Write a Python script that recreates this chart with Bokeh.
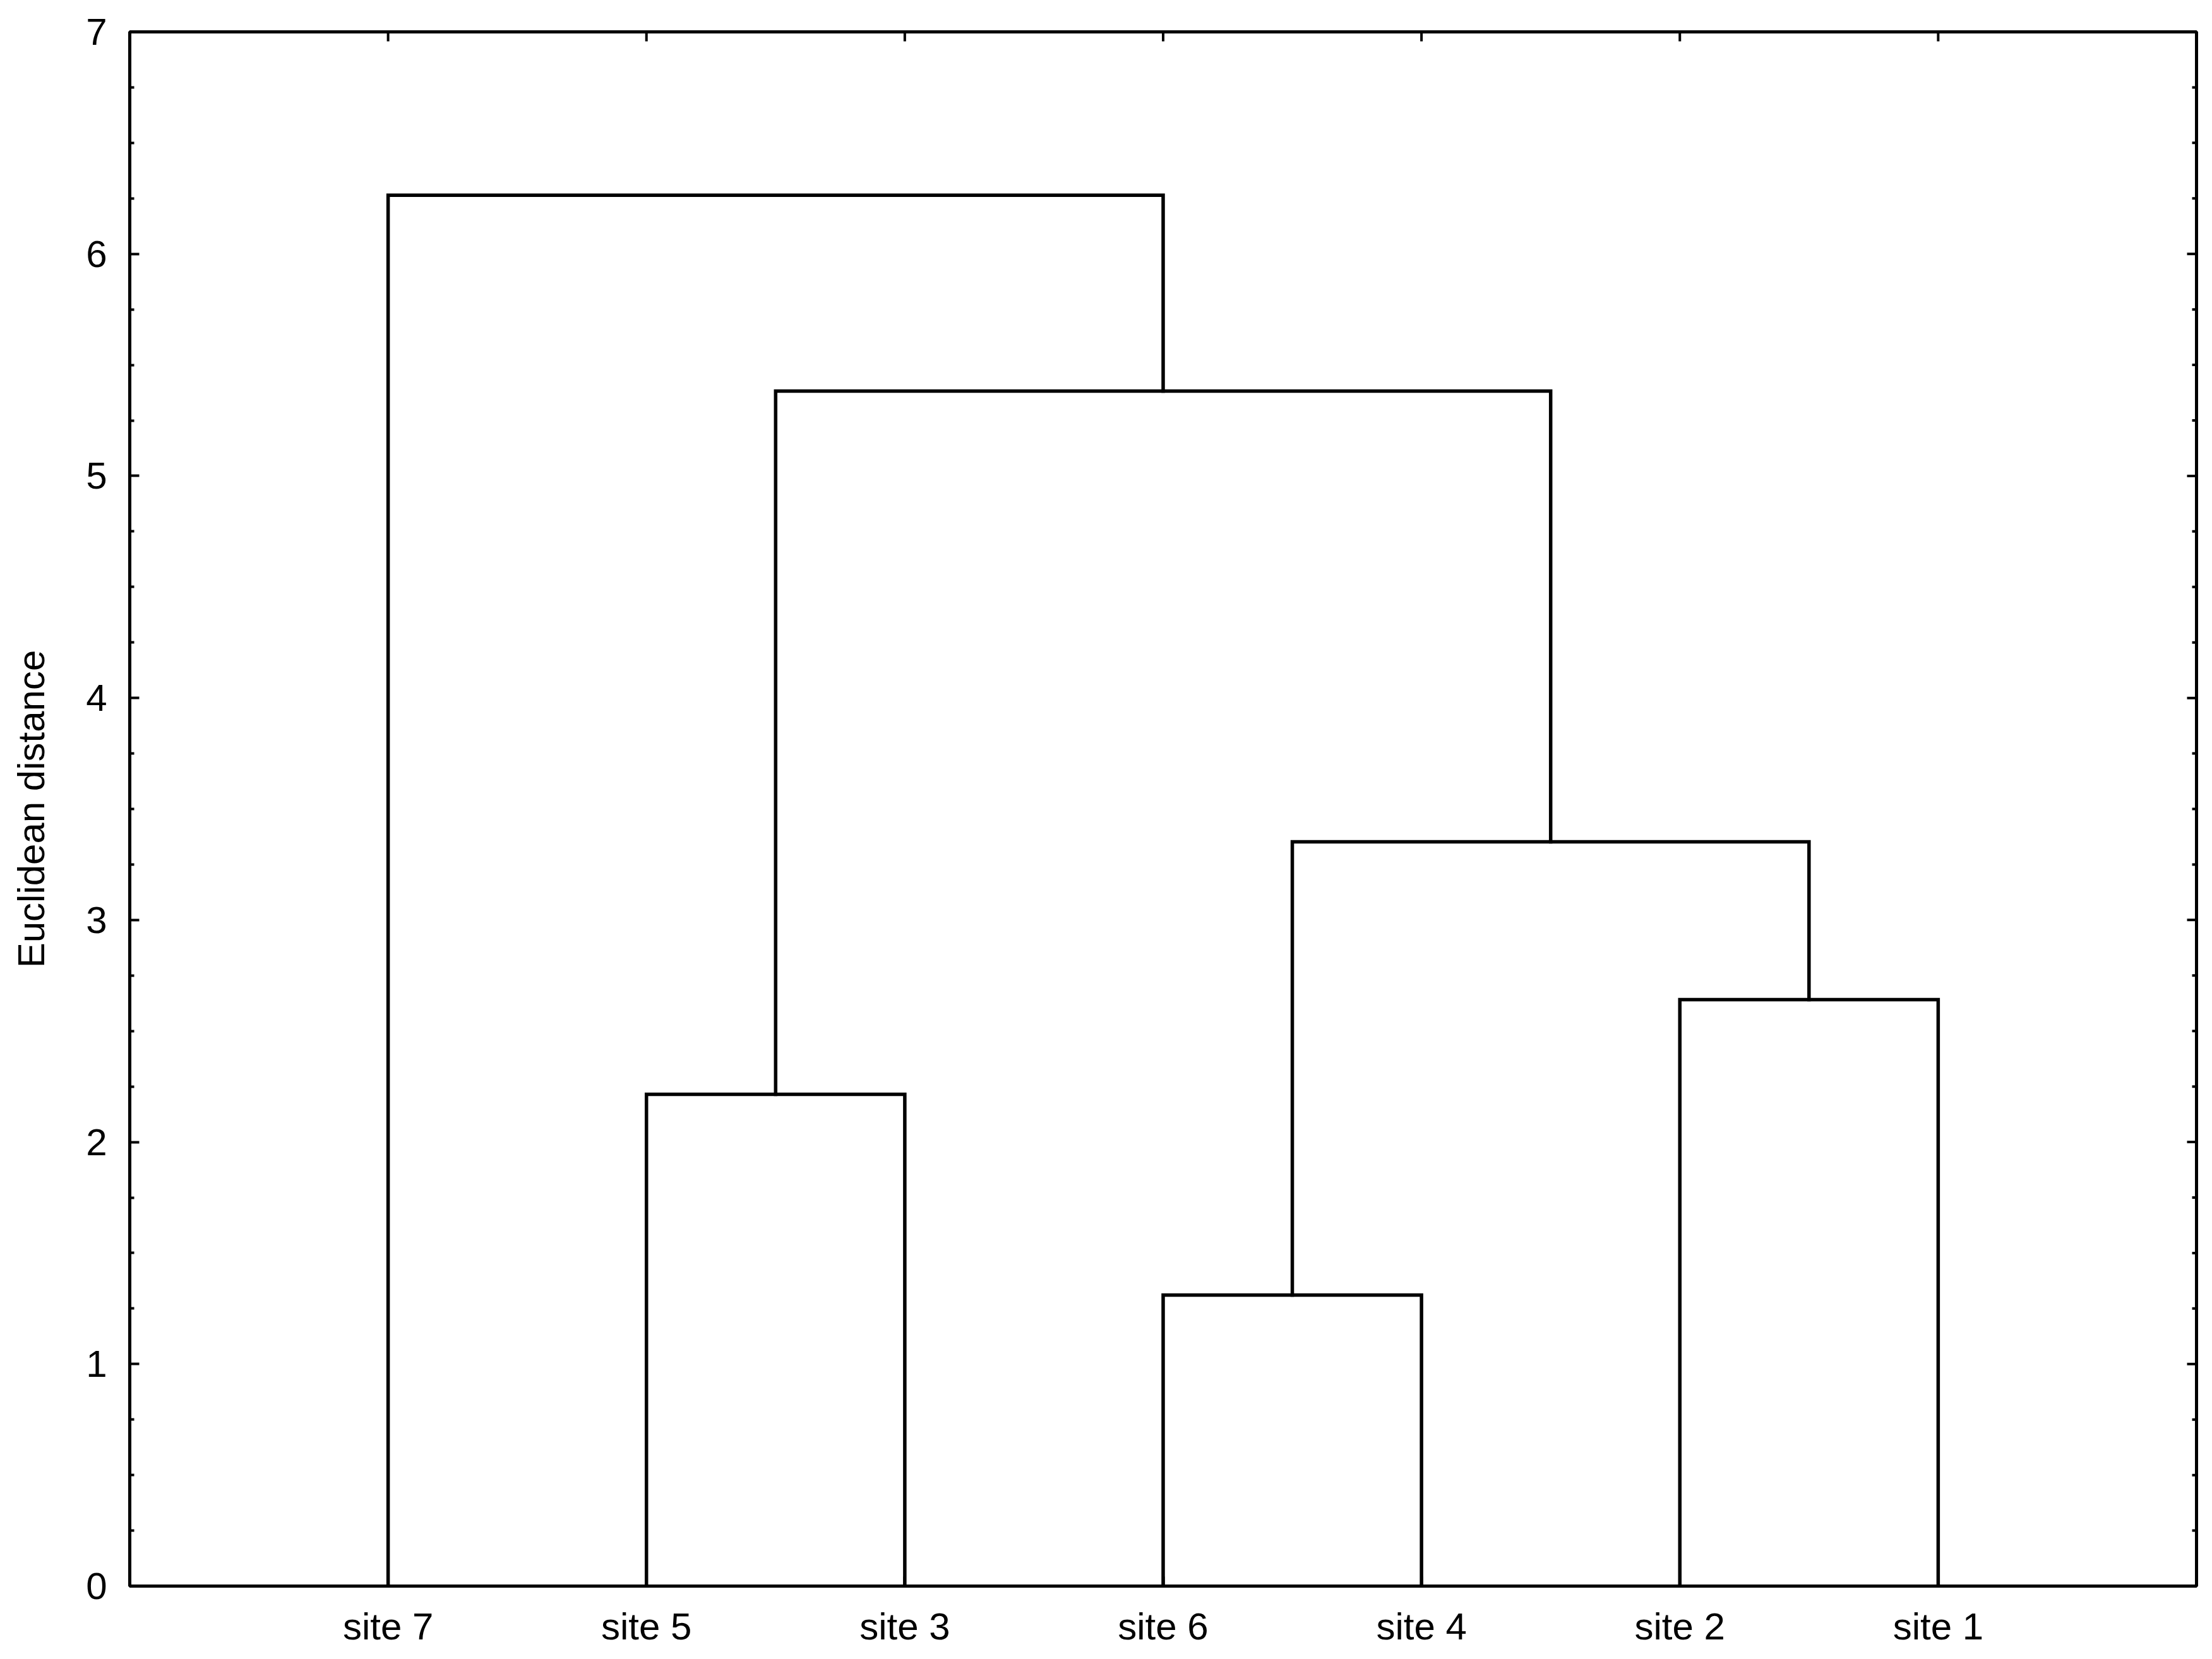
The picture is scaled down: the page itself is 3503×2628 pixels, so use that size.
import math
from bokeh.plotting import figure
from bokeh.models import FixedTicker, Range1d
from bokeh.embed import file_html
from bokeh.resources import INLINE

# ---- data ----
sites = ["site 7", "site 5", "site 3", "site 6", "site 4", "site 2", "site 1"]
# each merge joins two children (a leaf name or the index of an earlier merge)
merge_left = ["site 5", "site 6", "site 2", 1, 0, "site 7"]
merge_right = ["site 3", "site 4", "site 1", 2, 3, 4]
merge_height = [2.215, 1.311, 2.641, 3.352, 5.382, 6.264]
y_ticks = [0, 1, 2, 3, 4, 5, 6, 7]
y_minor = [i * 0.25 for i in range(29) if i % 4 != 0]
y_label = "Euclidean distance"

# ---- dendrogram geometry from the data ----
pos = {s: i + 1 for i, s in enumerate(sites)}
merge_x = []

def node(c):
    if isinstance(c, str):
        return pos[c], 0.0
    return merge_x[c], merge_height[c]

xs, ys = [], []
for l, r, h in zip(merge_left, merge_right, merge_height):
    xl, hl = node(l)
    xr, hr = node(r)
    xs.append([xl, xl, xr, xr])
    ys.append([hl, h, h, hr])
    merge_x.append((xl + xr) / 2)

X_MIN, X_MAX = 0, len(sites) + 1
Y_MIN, Y_MAX = y_ticks[0], y_ticks[-1]

FONT = "Liberation Sans"
FS = "60px"

p = figure(width=3487, height=2612, x_range=Range1d(X_MIN, X_MAX), y_range=Range1d(Y_MIN, Y_MAX),
           output_backend="svg", toolbar_location=None,
           min_border_left=205, min_border_right=9, min_border_top=50, min_border_bottom=100)
p.xgrid.visible = False
p.ygrid.visible = False
p.background_fill_color = "white"
p.border_fill_color = "white"
p.outline_line_color = "black"
p.outline_line_width = 5
p.outline_line_alpha = 1

p.multi_line(xs, ys, line_color="black", line_width=5.5, line_join="miter", line_cap="square")

site_ticks = list(range(1, len(sites) + 1))

# bottom axis
xa = p.xaxis[0]
xa.ticker = FixedTicker(ticks=site_ticks)
xa.major_label_overrides = {t: s for t, s in zip(site_ticks, sites)}
xa.axis_line_color = None
xa.major_tick_in = 15
xa.major_tick_out = 0
xa.major_tick_line_width = 4
xa.minor_tick_line_color = None
xa.major_label_standoff = 30
xa.major_label_text_font = FONT
xa.major_label_text_font_size = FS
xa.major_label_text_color = "black"

# left axis
ya = p.yaxis[0]
ya.ticker = FixedTicker(ticks=y_ticks, minor_ticks=y_minor)
ya.axis_line_color = None
ya.major_tick_in = 15
ya.major_tick_out = 0
ya.minor_tick_in = 7
ya.minor_tick_out = 0
ya.major_tick_line_width = 4
ya.minor_tick_line_width = 4
ya.major_label_standoff = 36
ya.major_label_text_font = FONT
ya.major_label_text_font_size = FS
ya.major_label_text_color = "black"
ya.axis_label = y_label
ya.axis_label_text_font = FONT
ya.axis_label_text_font_size = FS
ya.axis_label_text_font_style = "normal"
ya.axis_label_text_color = "black"
ya.axis_label_standoff = 50

# mirrored inward ticks on top and right edges (dash markers clipped by the frame)
p.scatter(site_ticks, [Y_MAX] * len(site_ticks), marker="dash", size=30, angle=math.pi / 2,
          line_color="black", line_width=4)
p.scatter([X_MAX] * len(y_ticks), y_ticks, marker="dash", size=30,
          line_color="black", line_width=4)
p.scatter([X_MAX] * len(y_minor), y_minor, marker="dash", size=14,
          line_color="black", line_width=4)

open("out.html", "w").write(file_html(p, INLINE))
